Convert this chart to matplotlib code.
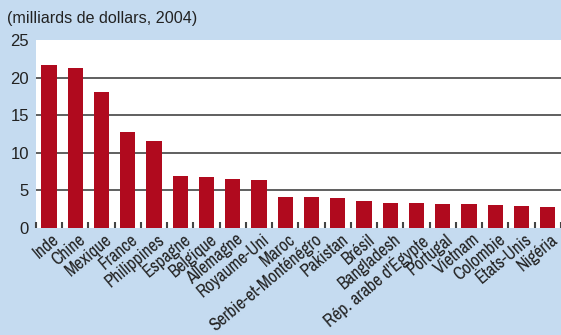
import matplotlib
matplotlib.use("Agg")
import matplotlib.pyplot as plt
import numpy as np

# donnees
pays = ["Inde", "Chine", "Mexique", "France", "Philippines", "Espagne", "Belgique",
        "Allemagne", "Royaume-Uni", "Maroc", "Serbie-et-Monténégro", "Pakistan",
        "Brésil", "Bangladesh", "Rép. arabe d'Égypte", "Portugal", "Vietnam",
        "Colombie", "États-Unis", "Nigéria"]
valeurs = [21.7, 21.3, 18.1, 12.7, 11.6, 6.9, 6.8, 6.5, 6.4, 4.2, 4.1, 4.0,
           3.6, 3.4, 3.3, 3.2, 3.2, 3.1, 3.0, 2.8]
yticks = [0, 5, 10, 15, 20, 25]

plt.rcParams['font.family'] = ['Liberation Sans', 'DejaVu Sans']
etroite = ['Archivo Narrow', 'Liberation Sans Narrow', 'Liberation Sans', 'DejaVu Sans']

fond = "#c5dbf0"
rouge = "#b00a1e"
gris = "#444444"
texte = "#222222"

fig = plt.figure(figsize=(5.61, 3.35), dpi=100, facecolor=fond)
ax = fig.add_axes([0.064, 0.319, 0.936, 0.562])
ax.set_facecolor("white")

x = np.arange(len(pays))
ax.bar(x, valeurs, width=0.58, color=rouge, zorder=3)

ax.set_xlim(-0.5, len(pays) - 0.5)
ax.set_ylim(0, 25)
ax.set_yticks(yticks)
ax.set_yticklabels([str(v) for v in yticks], fontsize=12, color=texte)
ax.tick_params(axis='y', length=0, pad=5)
for v in yticks[1:-1]:
    ax.axhline(v, color=gris, lw=1.2, zorder=1)

# petites marques entre les barres
ax.set_xticks(np.arange(len(pays) + 1) - 0.5)
ax.set_xticklabels([])
ax.tick_params(axis='x', direction='in', length=4, width=1.5, color=gris)

for i, p in enumerate(pays):
    ax.text(i + 0.12, -0.4, p, rotation=40, ha='right', va='top',
            rotation_mode='anchor', fontsize=12.6, color=texte, family=etroite)

for s in ax.spines.values():
    s.set_visible(False)

fig.text(0.012, 0.945, "(milliards de dollars, 2004)", fontsize=11.6, color=texte,
         va='center', ha='left')

plt.savefig("out.png", dpi=100, facecolor=fond)
